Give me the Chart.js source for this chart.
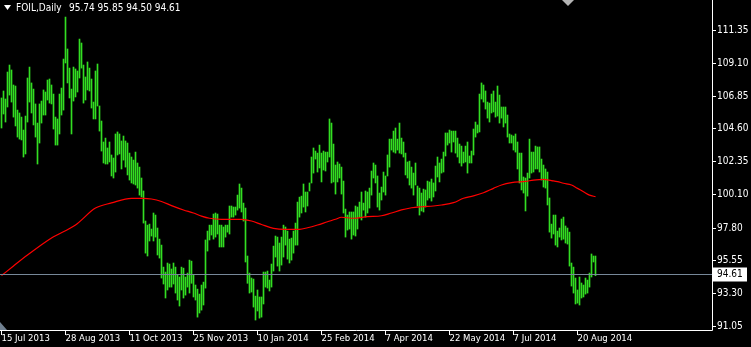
<!DOCTYPE html>
<html>
<head>
<meta charset="utf-8">
<script src="https://cdn.jsdelivr.net/npm/chart.js@4.4.1/dist/chart.umd.min.js"></script>
<style>
  html, body { margin: 0; padding: 0; background: #000; }
  canvas { display: block; }
</style>
</head>
<body>
<canvas id="chart" width="751" height="347"></canvas>
<script>
// daily bars, index 0 = 15 Jul 2013
const barHigh = [
  106.69,107.17,106.62,108.47,108.95,108.61,107.58,107.51,105.86,105.66,
  105.38,104.49,105.45,108.06,108.81,107.72,107.30,106.28,104.97,106.28,
  106.48,107.24,107.10,107.92,107.99,107.58,106.96,105.38,105.25,106.96,
  107.37,109.36,112.24,110.05,108.74,107.30,108.81,108.68,108.54,110.73,
  110.46,108.95,108.13,109.16,108.74,107.99,106.41,108.54,109.02,106.14,
  105.11,103.67,103.94,103.26,103.67,102.78,102.57,104.22,104.36,104.22,
  103.74,104.08,103.74,103.60,102.91,102.64,102.43,102.98,102.23,101.95,
  101.20,100.31,98.25,97.97,98.04,97.70,98.80,98.66,97.77,97.01,
  96.60,95.09,94.75,95.37,95.30,94.96,95.37,95.09,94.55,94.41,
  95.09,95.02,94.41,94.68,95.57,95.50,94.55,93.86,93.58,93.24,
  93.86,94.06,96.95,97.56,97.97,97.97,98.73,98.80,98.73,97.97,
  97.97,97.84,97.97,97.97,99.28,99.28,99.21,99.21,100.03,100.79,
  100.51,99.48,99.14,95.85,94.68,94.34,94.27,93.10,93.52,93.04,
  93.04,94.75,94.75,94.82,94.20,95.30,96.53,97.22,97.15,96.74,
  97.15,97.97,97.84,97.56,97.01,97.08,97.56,98.11,99.55,99.89,
  99.96,100.79,100.24,100.24,100.86,102.64,103.26,103.05,102.91,103.46,
  102.91,103.05,102.98,102.98,105.25,104.97,103.53,102.09,102.30,102.16,
  101.95,100.99,99.07,98.66,98.87,98.87,98.87,99.28,99.21,99.55,
  100.24,99.48,100.31,100.24,100.51,101.68,102.23,102.09,101.34,100.17,
  100.58,101.61,101.34,102.78,103.87,103.87,104.42,104.63,103.87,104.97,
  103.94,103.67,102.91,102.30,102.36,101.95,101.54,102.23,100.65,100.51,
  100.17,100.44,100.38,100.99,100.93,101.13,100.86,102.02,102.64,102.23,
  102.50,102.98,104.29,104.29,104.49,104.42,104.42,104.42,103.94,103.53,
  103.39,102.98,103.39,103.67,102.71,103.05,104.56,105.04,104.84,106.96,
  107.72,107.58,107.17,106.41,106.34,106.96,107.17,106.41,107.51,106.89,
  106.07,106.07,106.07,105.52,104.22,104.15,104.08,104.22,103.67,102.91,
  102.91,101.27,101.20,101.54,103.87,102.98,102.98,103.39,103.33,103.33,
  102.50,102.09,101.82,101.61,99.83,98.04,98.66,98.66,97.56,97.77,
  98.39,98.52,97.91,97.77,97.49,95.37,95.09,94.34,93.52,94.41,
  94.00,93.86,94.34,94.20,94.68,95.99,95.85,95.85
];
const barLow = [
  104.63,105.59,105.04,106.07,106.89,106.41,105.38,104.77,104.01,103.87,
  103.81,102.64,102.85,105.04,106.41,105.66,104.84,104.01,102.16,103.60,
  104.97,105.52,105.52,106.55,106.34,106.28,104.56,103.46,103.46,104.22,
  105.52,105.86,109.09,107.72,106.69,104.22,106.48,106.76,107.10,108.06,
  108.74,106.34,106.55,107.24,107.17,106.00,105.25,105.25,106.14,104.42,
  103.05,102.23,102.16,102.16,102.30,101.34,101.20,101.61,102.78,102.85,
  101.82,102.43,101.95,101.41,101.06,100.86,100.79,100.72,100.51,100.03,
  99.90,98.11,96.05,95.85,96.88,97.22,96.88,97.15,95.92,95.71,
  94.34,93.93,92.97,93.52,93.72,93.72,93.93,93.31,92.83,92.42,
  93.52,92.97,93.17,93.72,93.31,93.98,93.04,92.83,91.66,91.94,
  92.14,92.49,93.65,96.19,96.95,97.29,97.01,97.15,97.36,96.47,
  96.47,96.47,97.15,97.49,97.36,98.52,98.52,98.66,99.00,99.14,
  98.87,98.25,95.44,93.98,93.31,93.38,92.35,91.46,92.08,91.59,
  91.66,92.56,93.72,93.65,93.45,93.72,94.82,95.78,95.16,94.82,
  95.23,95.78,96.60,95.64,95.37,95.57,96.05,96.60,96.60,98.52,
  98.80,99.21,98.87,99.28,100.31,100.86,101.54,102.50,101.61,101.89,
  100.93,101.75,101.68,102.30,102.64,100.86,100.93,100.10,100.93,101.20,
  100.10,98.80,97.15,97.63,97.70,97.01,97.29,97.22,97.70,98.52,
  98.32,99.00,98.52,98.80,99.14,100.03,101.20,100.86,99.21,99.00,
  99.69,100.24,100.03,101.34,101.95,103.12,102.98,102.91,103.12,102.91,
  102.85,102.64,101.41,101.20,100.72,100.51,100.03,100.72,99.28,98.66,
  98.94,98.87,99.21,99.69,99.83,99.62,99.90,100.31,101.27,100.93,
  101.54,101.61,102.71,103.46,103.60,102.98,103.67,102.91,102.64,102.23,
  102.02,102.23,102.30,101.54,102.23,102.23,102.78,104.01,104.29,104.36,
  106.62,106.41,105.93,105.31,105.04,105.66,105.73,105.38,105.45,104.97,
  105.31,104.70,104.97,104.01,103.60,103.60,103.12,102.98,101.82,100.86,
  100.38,100.17,98.94,99.96,101.20,101.54,101.61,101.82,101.82,101.61,
  101.06,100.58,100.51,99.35,97.49,97.08,97.36,96.60,96.47,97.15,
  96.95,97.01,96.74,96.67,95.16,93.79,93.31,92.56,92.62,92.49,
  92.97,93.04,93.24,93.31,93.72,94.41,95.44,94.50
];

// moving average (red), read at these bar indices
const maBar = [0,6,13,25,37,47,55,65,71,75,80,85,91,96,100,104,110,120,125,130,
  136,142,149,153,158,163,167,170,176,183,190,195,200,205,210,216,220,226,231,236,
  241,246,250,255,262,266,271,275,278,281,285,288,291,294,297];
const maValue = [94.51,95.17,95.92,97.09,97.98,99.14,99.49,99.81,99.81,99.76,
  99.59,99.31,99.01,98.80,98.59,98.44,98.37,98.37,98.25,98.01,
  97.75,97.68,97.68,97.79,97.98,98.20,98.37,98.51,98.44,98.55,
  98.61,98.80,99.01,99.16,99.23,99.28,99.35,99.51,99.81,99.97,
  100.19,100.49,100.72,100.88,100.97,101.06,101.11,101.02,100.95,100.84,
  100.72,100.49,100.26,100.03,99.92];

const yTicks = [111.35, 109.10, 106.85, 104.60, 102.35, 100.10, 97.80, 95.55, 93.30, 91.05];
const dateLabels = ['15 Jul 2013', '28 Aug 2013', '11 Oct 2013', '25 Nov 2013', '10 Jan 2014',
  '25 Feb 2014', '7 Apr 2014', '22 May 2014', '7 Jul 2014', '20 Aug 2014'];
const dateBars = [0, 32, 64, 96, 128, 160, 192, 224, 256, 288];

const lastPrice = 94.61;
const header = 'FOIL,Daily';
const headerOHLC = '95.74 95.85 94.50 94.61';

const FONT = '10px "DejaVu Sans Condensed", "DejaVu Sans", sans-serif';
const DATE_FONT = '9.5px "DejaVu Sans Condensed", "DejaVu Sans", sans-serif';

// MT4 style frame, axis labels and price line
const mtFrame = {
  id: 'mtFrame',
  beforeDraw(chart) {
    const c = chart.ctx;
    c.save();
    c.fillStyle = '#000';
    c.fillRect(0, 0, chart.width, chart.height);
    c.restore();
  },
  afterDatasetsDraw(chart) {
    const c = chart.ctx;
    const { left, right, bottom } = chart.chartArea;
    const xs = chart.scales.x, ys = chart.scales.y;
    c.save();

    // current price line
    const py = Math.round(ys.getPixelForValue(lastPrice)) + 0.5;
    c.strokeStyle = '#778899';
    c.lineWidth = 1;
    c.beginPath();
    c.moveTo(left, py);
    c.lineTo(right, py);
    c.stroke();

    // frame
    c.strokeStyle = '#fff';
    c.beginPath();
    c.moveTo(right + 0.5, 0);
    c.lineTo(right + 0.5, bottom + 0.5);
    c.lineTo(left, bottom + 0.5);
    c.stroke();

    c.font = FONT;
    c.fillStyle = '#fff';
    c.textBaseline = 'middle';
    c.textAlign = 'left';

    // price axis
    yTicks.forEach(v => {
      const y = Math.round(ys.getPixelForValue(v)) + 0.5;
      c.beginPath();
      c.moveTo(right, y);
      c.lineTo(right + 4, y);
      c.stroke();
      c.fillText(v.toFixed(2), right + 5, y);
    });

    // date axis
    c.font = DATE_FONT;
    dateBars.forEach((b, k) => {
      const x = Math.floor(xs.getPixelForValue(b)) + 0.5;
      c.beginPath();
      c.moveTo(x, bottom);
      c.lineTo(x, bottom + 5);
      c.stroke();
      c.fillText(dateLabels[k], x, bottom + 9);
    });
    c.font = FONT;

    // last price box
    c.fillStyle = '#fff';
    c.fillRect(right + 1, py - 7, 34, 14);
    c.fillStyle = '#000';
    c.fillText(lastPrice.toFixed(2), right + 5, py);

    // header
    c.fillStyle = '#fff';
    c.beginPath();
    c.moveTo(4, 5);
    c.lineTo(11, 5);
    c.lineTo(7.5, 10);
    c.closePath();
    c.fill();
    c.fillText(header, 16, 8);
    c.fillText(headerOHLC, 69, 8);

    // chart shift markers
    c.fillStyle = '#b4b4b4';
    c.beginPath();
    c.moveTo(562, 0);
    c.lineTo(574, 0);
    c.lineTo(568, 6);
    c.closePath();
    c.fill();
    c.fillStyle = '#708090';
    c.beginPath();
    c.moveTo(0, 322);
    c.lineTo(0, 330);
    c.lineTo(7, 330);
    c.closePath();
    c.fill();

    c.restore();
  }
};

new Chart(document.getElementById('chart'), {
  type: 'bar',
  data: {
    datasets: [
      {
        type: 'line',
        label: 'MA',
        data: maBar.map((b, k) => ({ x: b, y: maValue[k] })),
        borderColor: '#ff0000',
        borderWidth: 1.2,
        pointRadius: 0,
        cubicInterpolationMode: 'monotone',
        order: 0
      },
      {
        type: 'bar',
        label: 'FOIL',
        data: barLow.map((lo, i) => ({ x: i, y: [lo, barHigh[i]] })),
        backgroundColor: '#33dd22',
        borderWidth: 0,
        borderSkipped: false,
        barThickness: 1,
        order: 1
      }
    ]
  },
  options: {
    responsive: false,
    animation: false,
    events: [],
    layout: { padding: { left: 0, top: 0, right: 39, bottom: 17 } },
    plugins: { legend: { display: false }, tooltip: { enabled: false } },
    scales: {
      x: { type: 'linear', min: -0.75, max: 355.25, offset: false, display: false },
      y: { min: 90.776, max: 113.41, display: false }
    }
  },
  plugins: [mtFrame]
});
</script>
</body>
</html>
